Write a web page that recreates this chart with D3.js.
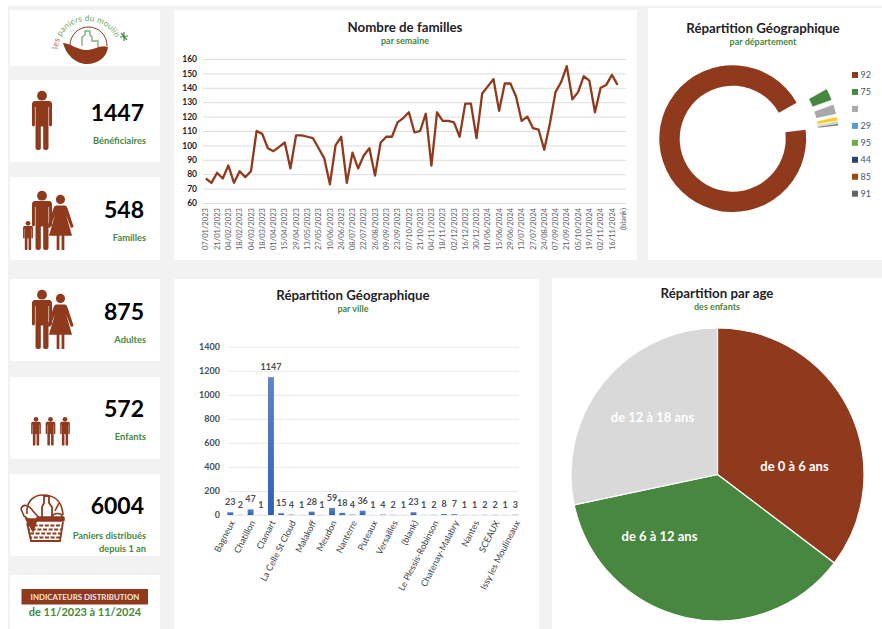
<!DOCTYPE html>
<html>
<head>
<meta charset="utf-8">
<script src="https://cdn.jsdelivr.net/npm/d3@7"></script>
<style>
  html, body { margin: 0; padding: 0; background: #fff; }
  svg { display: block; font-family: Lato, "Open Sans", sans-serif; }
</style>
</head>
<body>
<svg id="board" width="882" height="629"></svg>
<script>
const weekLabels = ['07/01/2023','21/01/2023','04/02/2023','18/02/2023','04/03/2023','18/03/2023','01/04/2023','15/04/2023','29/04/2023','13/05/2023','27/05/2023','10/06/2023','24/06/2023','08/07/2023','22/07/2023','26/08/2023','09/09/2023','23/09/2023','07/10/2023','21/10/2023','04/11/2023','18/11/2023','02/12/2023','16/12/2023','30/12/2023','01/06/2024','15/06/2024','29/06/2024','13/07/2024','27/07/2024','24/08/2024','07/09/2024','21/09/2024','05/10/2024','19/10/2024','02/11/2024','16/11/2024','(blank)'];
const familyCounts = [77,74,81,77,86,74,82,78,82,110,108,98,96,99,102,84,107,107,106,105,98,91,73,100,106,74,95,84,93,98,79,102,106,106,116,119,123,109,110,122,86,123,117,117,116,106,129,129,105,136,141,146,124,143,143,134,117,120,112,111,97,115,137,144,155,132,137,148,145,123,140,142,149,142];
const familyTicks = [60,70,80,90,100,110,120,130,140,150,160];

const departments = ['92','75','','29','95','44','85','91'];
const departmentCounts = [1357,38,31,12,2,1,1,5];
const departmentSliceColors = ['#8f3a1d','#47873f','#a9a9a9','#ffc81e','#70ad47','#264478','#9e480e','#636363'];
const departmentLegendColors = ['#8f3a1d','#47873f','#a9a9a9','#5b9bd5','#70ad47','#264478','#9e480e','#636363'];

const cities = ['Bagneux','','Chatillon','','Clamart','','La Celle St Cloud','','Malakoff','','Meudon','','Nanterre','','Puteaux','','Versailles','','(blank)','','Le Plessis-Robinson','','Chatenay-Malabry','','Nantes','','SCEAUX','','Issy les Moulineaux'];
const cityCounts = [23,2,47,1,1147,15,4,1,28,1,59,18,4,36,1,4,2,1,23,1,2,8,7,1,1,2,2,1,3];
const cityTicks = [0,200,400,600,800,1000,1200,1400];

const ageGroups = ['de 0 à 6 ans','de 6 à 12 ans','de 12 à 18 ans'];
const ageCounts = [202,208,162];
const ageColors = ['#8f3a1d','#47873f','#d9d9d9'];

const brown = '#8f3a1d';
const green = '#47873f';
const ink = '#1f2328';
const tickInk = '#4a4f57';

const svg = d3.select('#board');

svg.append('rect').attr('x', 8).attr('y', 6).attr('width', 874).attr('height', 623).attr('fill', '#f2f2f2');

const panels = [
  [10,10,150,56],[10,80,150,82],[10,177,150,83],[10,279,150,82],[10,377,150,82],[10,474,150,82],[10,575,150,54],
  [174,10,463,250],[648,8,234,252],[174,279,365,350],[552,278,330,351]
];
svg.append('g').selectAll('rect').data(panels).join('rect')
  .attr('x', d => d[0]).attr('y', d => d[1]).attr('width', d => d[2]).attr('height', d => d[3])
  .attr('fill', '#fff');

function label(x, y, text, size, fill, anchor, weight) {
  return svg.append('text')
    .attr('x', x).attr('y', y)
    .attr('dy', '0.35em')
    .attr('text-anchor', anchor || 'middle')
    .attr('font-size', size)
    .attr('font-weight', weight || 700)
    .attr('fill', fill)
    .text(text);
}

function titleBlock(x, y, title, sub) {
  label(x, y, title, 13.3, ink);
  label(x, y + 14, sub, 9, green);
}

// ---- pictograms, drawn on a 100 high grid
const manBody = 'M-12,17H12Q17,17 17,23V57Q17,60 14.5,60Q12,60 12,57V27H11V97Q11,100 7,100Q2,100 2,97V60H-2V97Q-2,100 -7,100Q-11,100 -11,97V27H-12V57Q-12,60 -14.5,60Q-17,60 -17,57V23Q-17,17 -12,17Z';
const womanBody = 'M-8,19H8Q11,19 13,25L24,58L19,60L10,36L21,74H7V100H2V74H-2V100H-7V74H-21L-10,36L-19,60L-24,58L-13,25Q-11,19 -8,19Z';

function person(cx, top, bottom, body) {
  const k = (bottom - top) / 100;
  const g = svg.append('g').attr('transform', `translate(${cx},${top}) scale(${k})`).attr('fill', brown);
  g.append('circle').attr('cy', 8).attr('r', 8.3);
  g.append('path').attr('d', body);
}

person(42, 91, 150, manBody);

person(42, 191, 250, manBody);
person(60.5, 195, 250, womanBody);
person(28, 221, 250, manBody);

person(42, 290, 349, manBody);
person(60.5, 294, 349, womanBody);

person(36, 417, 445.5, manBody);
person(50.5, 417, 445.5, manBody);
person(65, 417, 445.5, manBody);

// basket
const basket = svg.append('g').attr('fill', 'none').attr('stroke', brown).attr('stroke-width', 1.6);
basket.append('path').attr('d', 'M27,514C26,501 34,495 43,495C53,495 62,500 63,515');
basket.append('path').attr('d', 'M21,509C23,503 29,505 33,511L40,519L33,523L24,516Z');
basket.append('path').attr('d', 'M42,518V507L44,503V496H49V503L52,507V518').attr('stroke-width', 1.8);
basket.append('path').attr('d', 'M52,518C53,512 62,512 63,518M55,511L59,503');
basket.append('path').attr('d', 'M26,519L33,531L37,519Z').attr('fill', brown);
basket.append('rect').attr('x', 37).attr('y', 517).attr('width', 27).attr('height', 4).attr('rx', 1).attr('fill', brown);
basket.append('path').attr('d', 'M27,523L31,541H60L63,522').attr('stroke-width', 1.8);
const weave = svg.append('g').attr('stroke', brown).attr('stroke-width', 2).attr('stroke-dasharray', '4 1.6');
[525.5, 529.5, 533.5, 537.5].forEach((y, i) => {
  weave.append('line').attr('x1', 28 + i).attr('x2', 62 - i * 0.6).attr('y1', y).attr('y2', y)
    .attr('stroke-dashoffset', i % 2 ? 2.8 : 0);
});

// logo
const logo = svg.append('g');
logo.append('path').attr('d', 'M63,43C72,44 78,50 86,50C94,50 101,44 108,47C107,57 98,64 87,64C75,64 66,54 63,43Z').attr('fill', brown);
logo.append('path').attr('d', 'M70,45A18.5,18.5 0 1 1 107,46').attr('fill', 'none').attr('stroke', brown).attr('stroke-width', 1);
logo.append('path').attr('d', 'M82,46V37L85,35V31H90V35L92,37V41H98V47').attr('fill', 'none').attr('stroke', '#7fb07a').attr('stroke-width', 1.4);
logo.append('path').attr('d', 'M120,37L128,36M124,32L124,41M121,33L127,40').attr('stroke', green).attr('stroke-width', 1.2);
logo.append('path').attr('id', 'logoArc').attr('d', 'M58,49A30,28 0 1 1 118,49').attr('fill', 'none');
const logoText = logo.append('text').attr('font-size', 8.4).attr('font-family', 'Lato, sans-serif').attr('letter-spacing', 0.1);
const logoPath = logoText.append('textPath').attr('href', '#logoArc');
logoPath.append('tspan').attr('fill', '#b9695a').text('les ');
logoPath.append('tspan').attr('fill', '#6da566').text('paniers du moulin');

// ---- KPI cards
label(144, 113, '1447', 23, '#000', 'end');
label(146, 141, 'Bénéficiaires', 9.3, green, 'end');
label(144, 210, '548', 23, '#000', 'end');
label(146, 238, 'Familles', 9.3, green, 'end');
label(144, 312, '875', 23, '#000', 'end');
label(146, 340, 'Adultes', 9.3, green, 'end');
label(144, 409, '572', 23, '#000', 'end');
label(146, 437, 'Enfants', 9.3, green, 'end');
label(144, 506, '6004', 23, '#000', 'end');
label(146, 536, 'Paniers distribués', 9.3, green, 'end');
label(146, 549, 'depuis 1 an', 9.3, green, 'end');

svg.append('rect').attr('x', 21.5).attr('y', 589).attr('width', 126.5).attr('height', 15.5).attr('fill', brown);
label(85, 597, 'INDICATEURS DISTRIBUTION', 7.9, '#f3e6e0');
label(85, 612, 'de 11/2023 à 11/2024', 11, green);

// ---- weekly line
titleBlock(405, 27, 'Nombre de familles', 'par semaine');

const lineX = d3.scaleBand().domain(d3.range(weekLabels.length * 2 - 1)).range([203, 626]);
const lineY = d3.scaleLinear().domain([60, 160]).range([203, 59]);

svg.append('g')
  .attr('transform', 'translate(203,0)')
  .call(d3.axisLeft(lineY).tickValues(familyTicks).tickSize(-423).tickPadding(6))
  .call(g => g.select('.domain').remove())
  .call(g => g.selectAll('.tick line').attr('stroke', '#d9d9d9').attr('stroke-width', 0.9))
  .call(g => g.selectAll('.tick text').attr('fill', ink).attr('font-size', 8.5).attr('font-weight', 700).attr('font-family', 'Lato'));

svg.append('g')
  .attr('transform', 'translate(0,203)')
  .call(d3.axisBottom(lineX).tickValues(d3.range(0, weekLabels.length * 2 - 1, 2)).tickFormat(i => weekLabels[i / 2]).tickSize(0))
  .call(g => g.select('.domain').remove())
  .call(g => g.selectAll('.tick text')
    .attr('transform', 'rotate(-90)')
    .attr('x', -5).attr('y', 0).attr('dy', '0.35em')
    .attr('text-anchor', 'end')
    .attr('fill', '#5c6068').attr('font-size', 7.6).attr('font-family', 'Lato'));

svg.append('path')
  .datum(familyCounts)
  .attr('fill', 'none')
  .attr('stroke', brown)
  .attr('stroke-width', 2.3)
  .attr('stroke-linejoin', 'round')
  .attr('d', d3.line().x((d, i) => lineX(i) + lineX.bandwidth() / 2).y(d => lineY(d)));

// ---- department donut
titleBlock(763, 28, 'Répartition Géographique', 'par département');

const donutCx = 732.7, donutCy = 138.7, explode = 33;
const firstAngle = 83 * Math.PI / 180;
const donutPie = d3.pie().sort(null).startAngle(firstAngle).endAngle(firstAngle + 2 * Math.PI);
const donutArc = d3.arc().innerRadius(53).outerRadius(73.4);

svg.append('g')
  .attr('transform', `translate(${donutCx},${donutCy})`)
  .selectAll('path')
  .data(donutPie(departmentCounts))
  .join('path')
  .attr('d', donutArc)
  .attr('fill', (d, i) => departmentSliceColors[i])
  .attr('stroke', (d, i) => i === 0 ? 'none' : '#fff')
  .attr('stroke-width', 0.3)
  .attr('transform', (d, i) => {
    if (i === 0) return null;
    const mid = (d.startAngle + d.endAngle) / 2;
    return `translate(${explode * Math.sin(mid)},${-explode * Math.cos(mid)})`;
  });

const legendY = d3.scalePoint().domain(d3.range(departments.length)).range([75, 193.7]);
const legend = svg.append('g').selectAll('g').data(departments).join('g')
  .attr('transform', (d, i) => `translate(852,${legendY(i)})`);
legend.append('rect').attr('x', 0).attr('y', -3).attr('width', 6).attr('height', 6)
  .attr('fill', (d, i) => departmentLegendColors[i]);
legend.append('text').attr('x', 8.5).attr('dy', '0.35em').attr('font-size', 9).attr('fill', '#44546a').text(d => d);

// ---- cities bars
titleBlock(353, 295, 'Répartition Géographique', 'par ville');

const defs = svg.append('defs');
const barFill = defs.append('linearGradient').attr('id', 'barFill').attr('x1', 0).attr('x2', 0).attr('y1', 0).attr('y2', 1);
barFill.append('stop').attr('offset', '0%').attr('stop-color', '#5f86cc');
barFill.append('stop').attr('offset', '100%').attr('stop-color', '#2e60b8');

const barX = d3.scaleBand().domain(d3.range(cityCounts.length)).range([223, 522.6]).padding(0.42);
const barY = d3.scaleLinear().domain([0, 1400]).range([515, 346.7]);

svg.append('g')
  .attr('transform', 'translate(228,0)')
  .call(d3.axisLeft(barY).tickValues(cityTicks).tickFormat(d3.format('d')).tickSize(-291).tickPadding(8))
  .call(g => g.select('.domain').remove())
  .call(g => g.selectAll('.tick line').attr('stroke', '#e7e9ee').attr('stroke-width', 1))
  .call(g => g.selectAll('.tick text').attr('fill', tickInk).attr('font-size', 9).attr('font-weight', 700).attr('font-family', 'Lato'));

svg.append('g').selectAll('rect').data(cityCounts).join('rect')
  .attr('x', (d, i) => barX(i))
  .attr('y', d => barY(d))
  .attr('width', barX.bandwidth())
  .attr('height', d => barY(0) - barY(d))
  .attr('fill', 'url(#barFill)');

svg.append('g').selectAll('text').data(cityCounts).join('text')
  .attr('x', (d, i) => barX(i) + barX.bandwidth() / 2)
  .attr('y', d => barY(d) - 10)
  .attr('dy', '0.35em')
  .attr('text-anchor', 'middle')
  .attr('font-size', 9)
  .attr('font-weight', 700)
  .attr('fill', tickInk)
  .text(d => d);

svg.append('g').selectAll('text').data(cities).join('text')
  .filter(d => d !== '')
  .attr('transform', d => `translate(${barX(cities.indexOf(d)) + barX.bandwidth() / 2 + 2},521) rotate(-63)`)
  .attr('text-anchor', 'end')
  .attr('dy', '0.35em')
  .attr('font-size', 9)
  .attr('fill', '#3b3f46')
  .text(d => d);

// ---- age pie
titleBlock(717, 293, 'Répartition par age', 'des enfants');

const ageCx = 717.5, ageCy = 474.5;
const agePie = d3.pie().sort(null);
const ageArc = d3.arc().innerRadius(0).outerRadius(146.5);
svg.append('g')
  .attr('transform', `translate(${ageCx},${ageCy})`)
  .selectAll('path')
  .data(agePie(ageCounts))
  .join('path')
  .attr('d', ageArc)
  .attr('fill', (d, i) => ageColors[i])
  .attr('stroke', '#fff')
  .attr('stroke-width', 1.2);

const ageLabelShift = [[77, -8], [-58, 62], [-65, -57]];
ageGroups.forEach((name, i) => {
  label(ageCx + ageLabelShift[i][0], ageCy + ageLabelShift[i][1], name, 13, '#fff');
});
</script>
</body>
</html>
